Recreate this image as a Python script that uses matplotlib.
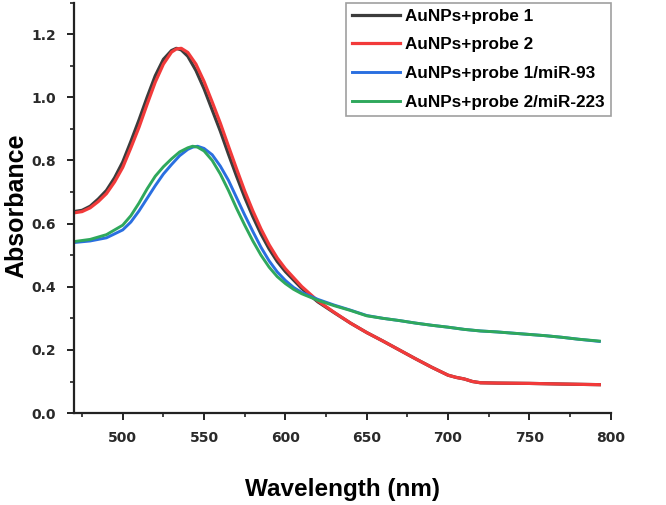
import matplotlib
matplotlib.use('Agg')
import matplotlib.pyplot as plt
from matplotlib.ticker import MultipleLocator

# wavelength grids (nm)
wl_probe = [470, 475, 480, 485, 490, 495, 500, 505, 510, 515, 520, 525, 530, 533, 536,
            540, 545, 550, 555, 560, 565, 570, 575, 580, 585, 590, 595, 600, 610, 620,
            630, 640, 650, 660, 670, 680, 690, 700, 705, 710, 715, 720, 730, 750, 770, 793]
wl_mir = [470, 480, 490, 500, 505, 510, 515, 520, 525, 530, 535, 540, 543, 546, 550,
          555, 560, 565, 570, 575, 580, 585, 590, 595, 600, 605, 610, 620, 630, 640,
          650, 660, 670, 680, 690, 700, 710, 720, 730, 740, 750, 760, 770, 780, 793]

# absorbance values
probe1 = [0.638, 0.642, 0.655, 0.678, 0.705, 0.745, 0.795, 0.860, 0.928, 1.000, 1.068, 1.120,
          1.148, 1.155, 1.150, 1.130, 1.085, 1.027, 0.960, 0.893, 0.820, 0.750, 0.683, 0.622,
          0.567, 0.520, 0.480, 0.448, 0.395, 0.352, 0.318, 0.285, 0.255, 0.228, 0.200, 0.172,
          0.145, 0.120, 0.113, 0.108, 0.100, 0.096, 0.095, 0.094, 0.092, 0.090]
probe2 = [0.634, 0.638, 0.650, 0.670, 0.695, 0.732, 0.778, 0.840, 0.905, 0.978, 1.048, 1.105,
          1.143, 1.153, 1.155, 1.142, 1.105, 1.050, 0.985, 0.918, 0.845, 0.773, 0.703, 0.640,
          0.583, 0.533, 0.491, 0.457, 0.401, 0.355, 0.319, 0.285, 0.255, 0.228, 0.200, 0.172,
          0.145, 0.120, 0.113, 0.108, 0.100, 0.096, 0.095, 0.094, 0.092, 0.090]
probe1_mir93 = [0.540, 0.545, 0.555, 0.580, 0.605, 0.640, 0.680, 0.720, 0.757, 0.787, 0.815,
                0.835, 0.842, 0.845, 0.838, 0.818, 0.782, 0.737, 0.682, 0.627, 0.575, 0.525,
                0.482, 0.447, 0.420, 0.398, 0.382, 0.360, 0.342, 0.326, 0.309, 0.300, 0.293,
                0.285, 0.278, 0.272, 0.265, 0.260, 0.257, 0.253, 0.249, 0.245, 0.240, 0.234, 0.227]
probe2_mir223 = [0.543, 0.550, 0.565, 0.595, 0.625, 0.665, 0.710, 0.750, 0.780, 0.805, 0.827,
                 0.840, 0.845, 0.842, 0.830, 0.800, 0.757, 0.705, 0.648, 0.595, 0.545, 0.500,
                 0.462, 0.432, 0.410, 0.392, 0.378, 0.357, 0.340, 0.325, 0.308, 0.300, 0.293,
                 0.285, 0.278, 0.272, 0.265, 0.260, 0.257, 0.253, 0.249, 0.245, 0.240, 0.234, 0.228]

labels = ['AuNPs+probe 1', 'AuNPs+probe 2', 'AuNPs+probe 1/miR-93', 'AuNPs+probe 2/miR-223']
colors = ['#3c3c3c', '#f23a3a', '#2a6fe0', '#2fa85c']

fig = plt.figure(figsize=(6.66, 5.05), dpi=100)
ax = fig.add_axes([0.111, 0.182, 0.806, 0.813])

ax.plot(wl_probe, probe1, color=colors[0], lw=2.3, label=labels[0])
ax.plot(wl_probe, probe2, color=colors[1], lw=2.3, label=labels[1])
ax.plot(wl_mir, probe1_mir93, color=colors[2], lw=2.1, label=labels[2])
ax.plot(wl_mir, probe2_mir223, color=colors[3], lw=2.1, label=labels[3])

ax.set_xlim(470, 800)
ax.set_ylim(0, 1.3)
ax.xaxis.set_major_locator(MultipleLocator(50))
ax.xaxis.set_minor_locator(MultipleLocator(25))
ax.yaxis.set_minor_locator(MultipleLocator(0.1))
ax.set_yticks([0.0, 0.2, 0.4, 0.6, 0.8, 1.0, 1.2])
ax.set_yticklabels(['0.0', '0.2', '0.4', '0.6', '0.8', '1.0', '1.2'])

for s in ['top', 'right']:
    ax.spines[s].set_visible(False)
for s in ['left', 'bottom']:
    ax.spines[s].set_linewidth(1.6)
    ax.spines[s].set_color('#222222')

ax.tick_params(which='major', length=5, width=1.4, color='#222222', direction='out',
               labelsize=10, labelcolor='#2a2a2a', pad=8)
ax.tick_params(which='minor', length=3, width=1.2, color='#222222', direction='out')
for t in ax.get_xticklabels() + ax.get_yticklabels():
    t.set_fontweight('bold')
    t.set_family('DejaVu Sans')

ax.set_xlabel('Wavelength (nm)', fontsize=17.5, fontweight='bold', family='Liberation Sans')
ax.set_ylabel('Absorbance', fontsize=18, fontweight='bold', family='Liberation Sans')
ax.xaxis.set_label_coords(0.5, -0.187)
ax.yaxis.set_label_coords(-0.108, 0.504)
ax.xaxis.label.set_va('center')
ax.yaxis.label.set_va('center')

leg = ax.legend(loc='upper right', bbox_to_anchor=(1.0, 1.0), borderaxespad=0.0,
                frameon=True, fancybox=False, handlelength=2.8, handletextpad=0.3,
                labelspacing=0.8, borderpad=0.36,
                prop={'family': 'Liberation Sans', 'weight': 'bold', 'size': 12.3})
leg.get_frame().set_edgecolor('#888888')
leg.get_frame().set_linewidth(1.2)

fig.savefig('out.png', dpi=100)
